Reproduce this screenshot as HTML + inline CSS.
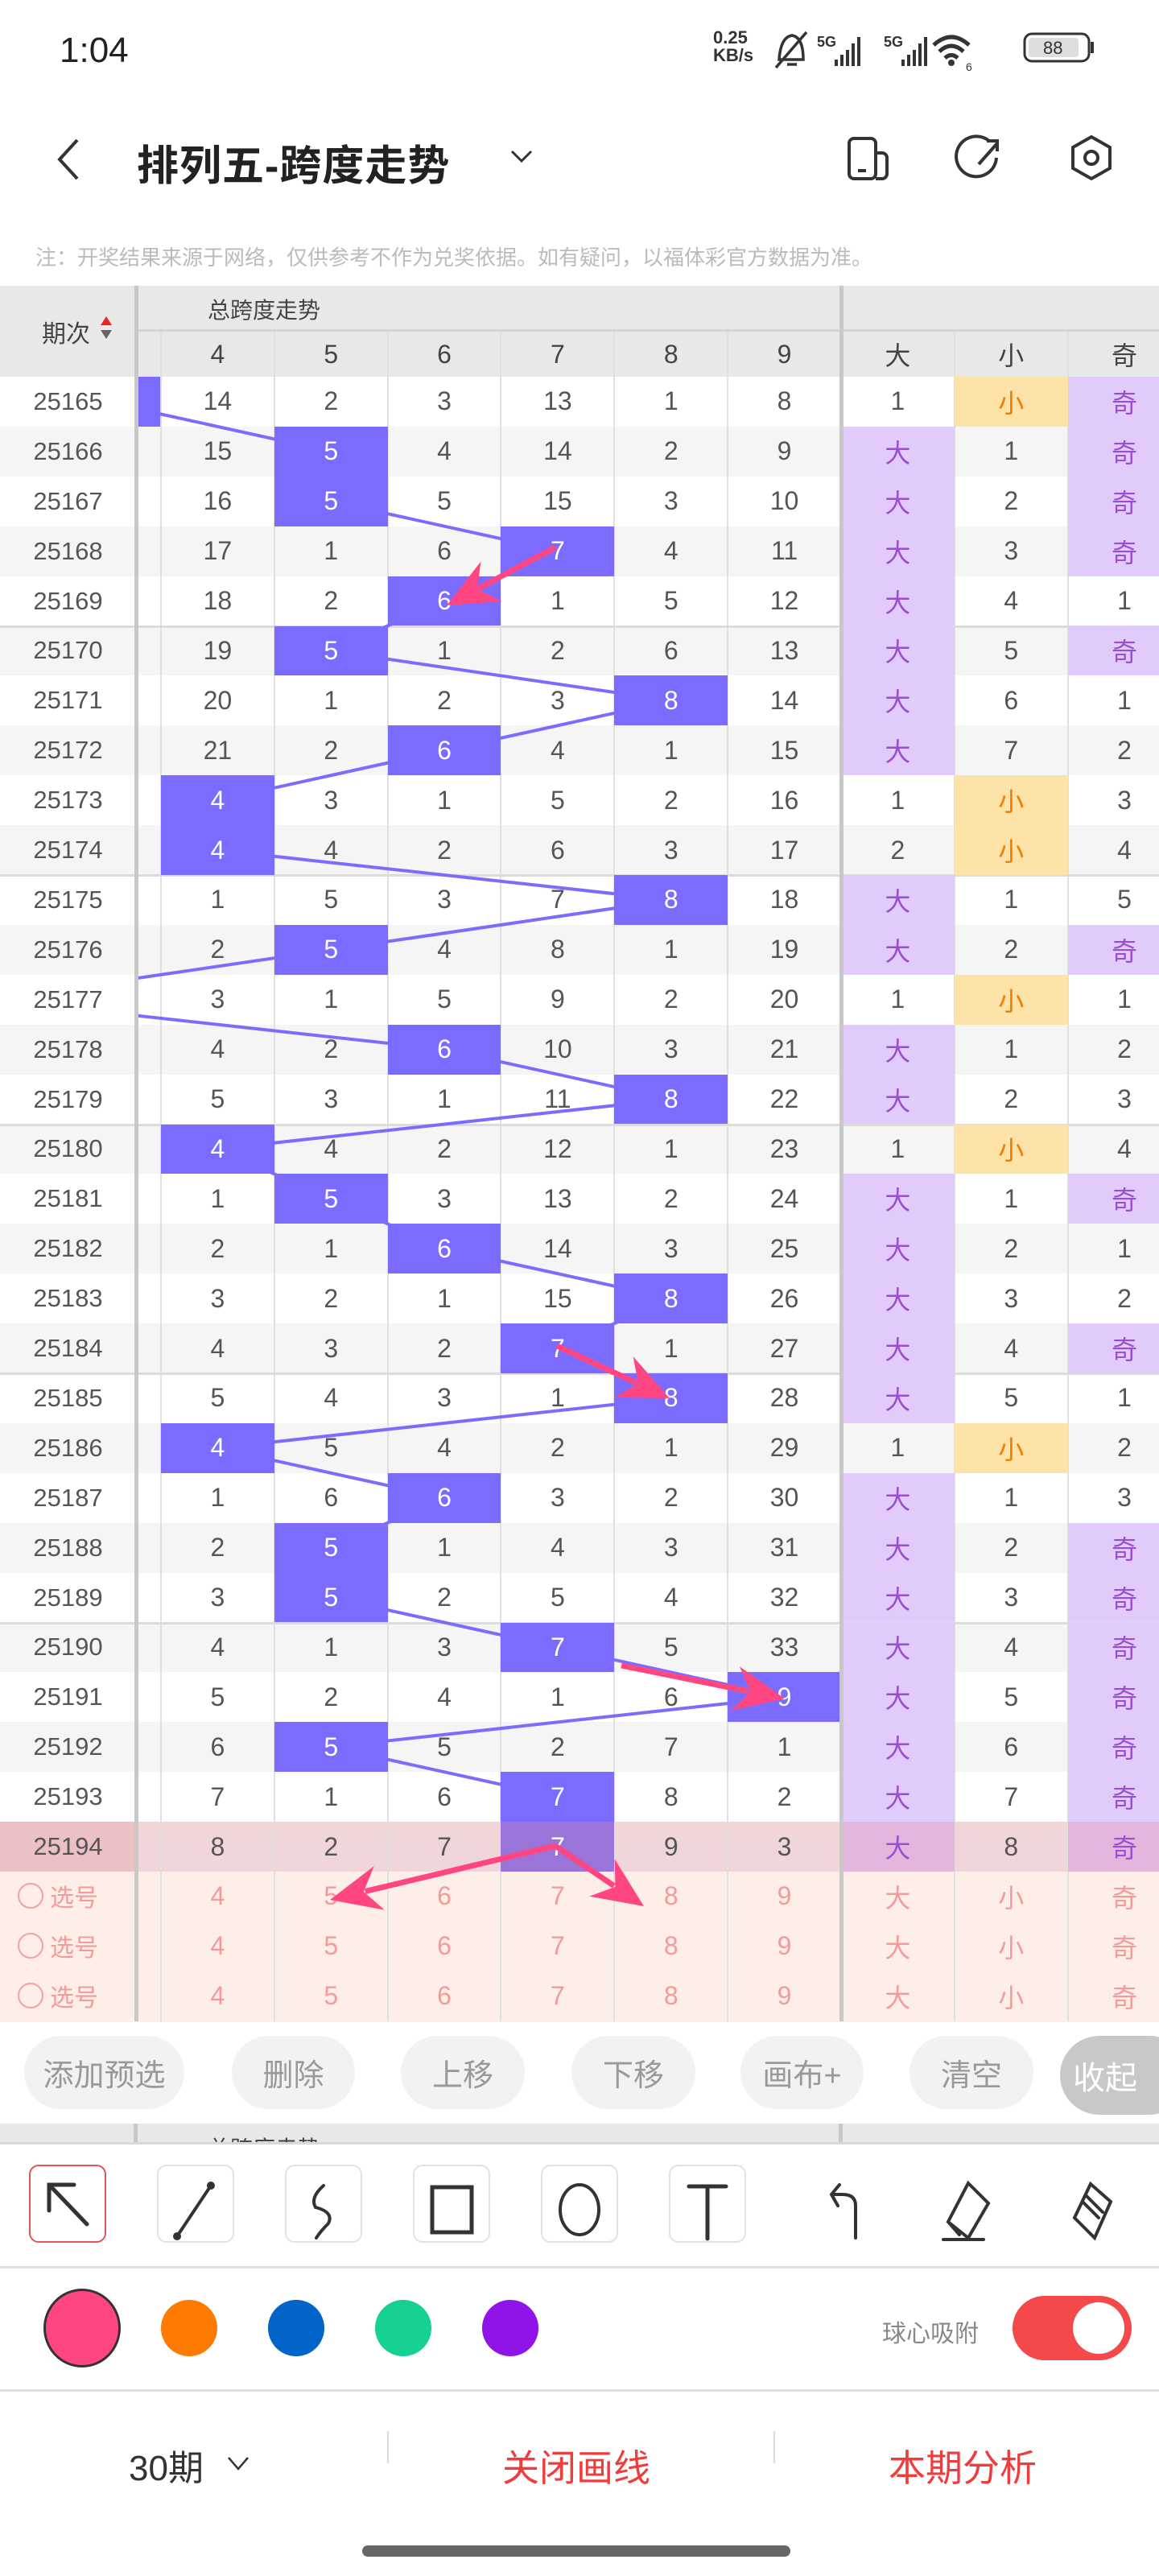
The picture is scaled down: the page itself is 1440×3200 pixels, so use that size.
<!DOCTYPE html>
<html><head><meta charset="utf-8">
<style>
*{margin:0;padding:0;box-sizing:border-box}
body{width:1440px;height:3200px;background:#fff;position:relative;overflow:hidden;font-family:"Liberation Sans","Noto Sans CJK SC",sans-serif;color:#555}
.a{position:absolute}
.c{position:absolute;display:flex;align-items:center;justify-content:center}
</style></head><body>
<!-- status bar -->
<div class="a" style="left:74px;top:38px;font-size:44px;color:#222">1:04</div>
<div class="a" style="left:886px;top:36px;font-size:22px;line-height:22px;font-weight:bold;color:#333">0.25<br>KB/s</div>
<svg class="a" style="left:960px;top:34px" width="400" height="60">
<g stroke="#333" stroke-width="3.5" fill="none">
<path d="M8 40 Q10 12 24 10 Q38 12 38 40 Z M18 46 h12 M4 50 L42 6"/>
</g>
<text x="55" y="24" font-size="18" font-weight="bold" fill="#333" font-family="Liberation Sans">5G</text>
<g fill="#333"><rect x="77" y="40" width="4" height="8"/><rect x="84" y="34" width="4" height="14"/><rect x="91" y="28" width="4" height="20"/><rect x="98" y="20" width="4" height="28"/><rect x="105" y="12" width="4" height="36"/></g>
<text x="138" y="24" font-size="18" font-weight="bold" fill="#333" font-family="Liberation Sans">5G</text>
<g fill="#333"><rect x="160" y="40" width="4" height="8"/><rect x="167" y="34" width="4" height="14"/><rect x="174" y="28" width="4" height="20"/><rect x="181" y="20" width="4" height="28"/><rect x="188" y="12" width="4" height="36"/></g>
<g stroke="#333" stroke-width="5" fill="none"><path d="M200 22 Q222 2 244 22"/><path d="M207 30 Q222 16 237 30"/><path d="M214 38 Q222 31 230 38"/></g><circle cx="222" cy="44" r="4" fill="#333"/>
<text x="240" y="54" font-size="14" fill="#333">6</text>
<rect x="313" y="8" width="80" height="34" rx="9" fill="none" stroke="#333" stroke-width="3"/><rect x="318" y="13" width="62" height="24" rx="4" fill="#ddd"/>
<text x="336" y="33" font-size="22" fill="#333" font-family="Liberation Sans">88</text><rect x="395" y="18" width="4" height="14" fill="#333"/>
</svg>
<!-- title bar -->
<svg class="a" style="left:60px;top:168px" width="50" height="60"><path d="M36 6 L14 30 L36 54" stroke="#333" stroke-width="4" fill="none"/></svg>
<div class="a" style="left:170px;top:164px;font-size:52px;font-weight:bold;color:#222;letter-spacing:1px">排列五-跨度走势</div>
<svg class="a" style="left:630px;top:180px" width="40" height="30"><path d="M6 8 L18 20 L30 8" stroke="#333" stroke-width="3" fill="none"/></svg>
<svg class="a" style="left:1040px;top:160px" width="360" height="80" fill="none" stroke="#333" stroke-width="4">
<rect x="15" y="12" width="33" height="50" rx="6"/><path d="M48 30 h8 a6 6 0 0 1 6 6 v20 a6 6 0 0 1 -6 6 h-8"/><path d="M26 52 h10"/>
<path d="M190 16 A25 25 0 1 0 198 36"/><path d="M176 44 L199 18 M186 15 h13 v13"/>
<path d="M316 10 L339 23 L339 49 L316 62 L293 49 L293 23 Z"/><circle cx="316" cy="36" r="8"/>
</svg>
<div class="a" style="left:44px;top:300px;font-size:26px;color:#bbb">注：开奖结果来源于网络，仅供参考不作为兑奖依据。如有疑问，以福体彩官方数据为准。</div>

<div id="tbl"></div>
<svg id="ov" class="a" style="left:0;top:0" width="1440" height="2520"></svg>

<!-- buttons -->
<div id="btns"></div>
<div class="a" style="left:0;top:2638px;width:1440px;height:26px;background:#e8e8e8;border-bottom:3px solid #d8d8d8;overflow:hidden">
<div class="a" style="left:166px;top:0;width:5px;height:26px;background:#c8c8c8"></div>
<div class="a" style="left:1042px;top:0;width:5px;height:26px;background:#c8c8c8"></div>
<div class="a" style="left:258px;top:10px;font-size:28px;color:#444">总跨度走势</div></div>
<!-- tools -->
<div id="tools"></div>
<svg class="a" style="left:0;top:2680px" width="1440" height="120" fill="none" stroke="#333" stroke-width="4" stroke-linecap="round">
<path d="M61 34 L108 83 M61 66 V34 H92" stroke-width="5"/>
<path d="M262 35 L220 98"/><circle cx="262" cy="35" r="3" fill="#333"/><circle cx="220" cy="98" r="3" fill="#333"/>
<path d="M402 35 Q385 50 392 62 Q415 68 408 82 Q398 92 393 100"/>
<rect x="537" y="37" width="49" height="56" stroke-width="5"/>
<ellipse cx="720" cy="65" rx="24" ry="31"/>
<path d="M856 36 h46 M879 36 v65" stroke-width="5"/>
<path d="M1063 100 v-40 Q1063 46 1047 46 h-14 M1033 46 l10 -12 M1033 46 l8 14"/>
<path d="M1203 32 L1228 57 L1203 100 L1178 80 Z M1178 80 L1192 96 M1172 102 h50"/>
<path d="M1355 33 L1380 55 L1360 100 L1335 75 Z M1345 55 l20 20 M1350 48 l20 20"/>
</svg>
<div class="a" style="left:0;top:2815px;width:1440px;height:3px;background:#e0e0e0"></div>
<div class="a" style="left:54px;top:2843px;width:96px;height:98px;border-radius:50%;background:#ff4680;border:3px solid #333"></div>
<div class="a" style="left:200px;top:2857px;width:70px;height:70px;border-radius:50%;background:#ff7b00"></div>
<div class="a" style="left:333px;top:2857px;width:70px;height:70px;border-radius:50%;background:#0064c8"></div>
<div class="a" style="left:466px;top:2857px;width:70px;height:70px;border-radius:50%;background:#16d18f"></div>
<div class="a" style="left:599px;top:2857px;width:70px;height:70px;border-radius:50%;background:#9013e8"></div>
<div class="a" style="left:1096px;top:2874px;font-size:30px;color:#888">球心吸附</div>
<div class="a" style="left:1258px;top:2852px;width:148px;height:80px;border-radius:40px;background:#f5484a"></div>
<div class="a" style="left:1333px;top:2860px;width:64px;height:64px;border-radius:50%;background:#fff"></div>
<div class="a" style="left:0;top:2968px;width:1440px;height:3px;background:#e0e0e0"></div>
<div class="a" style="left:160px;top:3030px;font-size:44px;color:#333">30期</div>
<svg class="a" style="left:278px;top:3045px" width="40" height="30"><path d="M6 8 L18 22 L30 8" stroke="#333" stroke-width="2.5" fill="none"/></svg>
<div class="a" style="left:481px;top:3020px;width:2px;height:40px;background:#ddd"></div>
<div class="a" style="left:961px;top:3020px;width:2px;height:40px;background:#ddd"></div>
<div class="a" style="left:624px;top:3030px;font-size:46px;color:#f03c3c">关闭画线</div>
<div class="a" style="left:1104px;top:3030px;font-size:46px;color:#f03c3c">本期分析</div>
<div class="a" style="left:450px;top:3162px;width:532px;height:14px;border-radius:7px;background:#666"></div>

<script>
const rows=[
["25165",[14,2,3,13,1,8],3,["1",0],["小",1],["奇",1]],
["25166",[15,5,4,14,2,9],5,["大",1],["1",0],["奇",1]],
["25167",[16,5,5,15,3,10],5,["大",1],["2",0],["奇",1]],
["25168",[17,1,6,7,4,11],7,["大",1],["3",0],["奇",1]],
["25169",[18,2,6,1,5,12],6,["大",1],["4",0],["1",0]],
["25170",[19,5,1,2,6,13],5,["大",1],["5",0],["奇",1]],
["25171",[20,1,2,3,8,14],8,["大",1],["6",0],["1",0]],
["25172",[21,2,6,4,1,15],6,["大",1],["7",0],["2",0]],
["25173",[4,3,1,5,2,16],4,["1",0],["小",1],["3",0]],
["25174",[4,4,2,6,3,17],4,["2",0],["小",1],["4",0]],
["25175",[1,5,3,7,8,18],8,["大",1],["1",0],["5",0]],
["25176",[2,5,4,8,1,19],5,["大",1],["2",0],["奇",1]],
["25177",[3,1,5,9,2,20],2,["1",0],["小",1],["1",0]],
["25178",[4,2,6,10,3,21],6,["大",1],["1",0],["2",0]],
["25179",[5,3,1,11,8,22],8,["大",1],["2",0],["3",0]],
["25180",[4,4,2,12,1,23],4,["1",0],["小",1],["4",0]],
["25181",[1,5,3,13,2,24],5,["大",1],["1",0],["奇",1]],
["25182",[2,1,6,14,3,25],6,["大",1],["2",0],["1",0]],
["25183",[3,2,1,15,8,26],8,["大",1],["3",0],["2",0]],
["25184",[4,3,2,7,1,27],7,["大",1],["4",0],["奇",1]],
["25185",[5,4,3,1,8,28],8,["大",1],["5",0],["1",0]],
["25186",[4,5,4,2,1,29],4,["1",0],["小",1],["2",0]],
["25187",[1,6,6,3,2,30],6,["大",1],["1",0],["3",0]],
["25188",[2,5,1,4,3,31],5,["大",1],["2",0],["奇",1]],
["25189",[3,5,2,5,4,32],5,["大",1],["3",0],["奇",1]],
["25190",[4,1,3,7,5,33],7,["大",1],["4",0],["奇",1]],
["25191",[5,2,4,1,6,9],9,["大",1],["5",0],["奇",1]],
["25192",[6,5,5,2,7,1],5,["大",1],["6",0],["奇",1]],
["25193",[7,1,6,7,8,2],7,["大",1],["7",0],["奇",1]],
["25194",[8,2,7,7,9,3],7,["大",1],["8",0],["奇",1]]];
const X0=200,CW=140.83,RH=61.9,Y0=468;
const cx=v=>X0+(v-4)*CW;
let h='';
h+=`<div class="a" style="left:0;top:355px;width:1440px;height:113px;background:#e8e8e8"></div>`;
h+=`<div class="a" style="left:171px;top:409px;width:1269px;height:3px;background:#d4d4d4"></div>`;
h+=`<div class="a" style="left:52px;top:390px;font-size:30px;color:#444">期次</div>`;
h+=`<svg class="a" style="left:122px;top:390px" width="20" height="40"><path d="M3 14 L10 3 L17 14Z" fill="#f02020"/><path d="M3 20 L10 31 L17 20Z" fill="#666"/></svg>`;
h+=`<div class="a" style="left:258px;top:364px;font-size:28px;color:#444">总跨度走势</div>`;
const hd=["4","5","6","7","8","9","大","小","奇"];
hd.forEach((t,i)=>{h+=`<div class="c" style="left:${X0+i*CW}px;top:412px;width:${CW}px;height:56px;font-size:32px;color:#444">${t}</div>`});
const allR=rows.length+3;
for(let i=0;i<allR;i++){
 const y=Y0+i*RH;
 let bg=i%2?'#f5f5f5':'#fff';
 if(i==29)bg='#f0d6d9'; if(i>=30)bg='#fdeee8';
 h+=`<div class="a" style="left:0;top:${y}px;width:1440px;height:${RH+1}px;background:${bg}"></div>`;
 if(i==29)h+=`<div class="a" style="left:0;top:${y}px;width:169px;height:${RH+1}px;background:#ebc1c5"></div>`;
}
for(let k=1;k<=8;k++){if(k==6)continue;h+=`<div class="a" style="left:${X0+k*CW-1}px;top:412px;width:2px;height:${allR*RH+56}px;background:#e0e0e0"></div>`}
h+=`<div class="a" style="left:199px;top:412px;width:2px;height:${allR*RH+56}px;background:#e0e0e0"></div>`;
for(let i=5;i<30;i+=5)h+=`<div class="a" style="left:0;top:${Y0+i*RH-1}px;width:1440px;height:3px;background:#dcdcdc"></div>`;
rows.forEach((r,i)=>{
 const y=Y0+i*RH;
 h+=`<div class="c" style="left:0;top:${y}px;width:169px;height:${RH}px;font-size:31px;color:#555">${r[0]}</div>`;
 const hl=r[2];
 r[1].forEach((v,k)=>{const col=k+4;const on=col==hl;
  h+=`<div class="c" style="left:${cx(col)}px;top:${y}px;width:${CW}px;height:${RH}px;font-size:32px;color:${on?'#fff':'#555'};${on?'background:'+(i==29?'#9b74da':'#7b6cff')+';z-index:3':''}">${v}</div>`});
 if(hl==3)h+=`<div class="a" style="left:171px;top:${y}px;width:28px;height:${RH}px;background:#7b6cff;z-index:3"></div>`;
 [r[3],r[4],r[5]].forEach((c,k)=>{let st='color:#555';
  if(c[1]){st=(k==1)?'background:#fde3a8;color:#f07d00':'background:'+(i==29?'#e3b5dd':'#e0cbfb')+';color:#9a4fd0'}
  h+=`<div class="c" style="left:${X0+(6+k)*CW}px;top:${y}px;width:${CW}px;height:${RH}px;font-size:32px;${st}">${c[0]}</div>`});
});
for(let j=0;j<3;j++){const y=Y0+(30+j)*RH;
 h+=`<div class="a" style="left:22px;top:${y+14}px;width:32px;height:32px;border-radius:50%;border:2px solid #f5a0a0"></div>`;
 h+=`<div class="a" style="left:62px;top:${y+8}px;font-size:30px;color:#f59a9a">选号</div>`;
 hd.forEach((t,i)=>{h+=`<div class="c" style="left:${X0+i*CW}px;top:${y}px;width:${CW}px;height:${RH}px;font-size:32px;color:#f59a9a">${t}</div>`});
}
h+=`<div class="a" style="left:167px;top:355px;width:5px;height:${113+allR*RH}px;background:#c8c8c8;z-index:4"></div>`;
h+=`<div class="a" style="left:${X0+6*CW-2}px;top:355px;width:5px;height:${113+allR*RH}px;background:#c8c8c8;z-index:4"></div>`;
document.getElementById('tbl').innerHTML=h;
let s='<defs><clipPath id="cp"><rect x="172" y="0" width="1300" height="2520"/></clipPath></defs><g clip-path="url(#cp)" stroke="#7b6cff" stroke-width="4">';
for(let i=0;i<29;i++){const a=rows[i][2],b=rows[i+1][2];
 s+=`<line x1="${cx(a)+CW/2}" y1="${Y0+i*RH+RH/2}" x2="${cx(b)+CW/2}" y2="${Y0+(i+1)*RH+RH/2}"/>`}
s+='</g>';
const ov=document.getElementById('ov');ov.style.zIndex=2;
let ar='';
function arrow(x1,y1,x2,y2){const dx=x2-x1,dy=y2-y1,L=Math.hypot(dx,dy),ux=dx/L,uy=dy/L;const bx=x2-ux*55,by=y2-uy*55;
 ar+=`<line x1="${x1}" y1="${y1}" x2="${bx+ux*10}" y2="${by+uy*10}" stroke="#ff4680" stroke-width="7"/>`;
 ar+=`<path d="M${x2} ${y2} L${bx-uy*28-ux*8} ${by+ux*28-uy*8} L${bx+ux*12} ${by+uy*12} L${bx+uy*28-ux*8} ${by-ux*28-uy*8} Z" fill="#ff4680"/>`}
arrow(690,680,555,752);
arrow(692,1672,832,1737);
arrow(772,2069,975,2110);
arrow(690,2293,410,2360);
arrow(690,2293,800,2368);
ov.innerHTML=s;
const ov2=document.createElementNS('http://www.w3.org/2000/svg','svg');
ov2.setAttribute('width','1440');ov2.setAttribute('height','2520');ov2.setAttribute('class','a');ov2.style.left='0';ov2.style.top='0';ov2.style.zIndex=5;
ov2.innerHTML=ar;document.body.appendChild(ov2);
const B=[["添加预选",30,229],["删除",288,441],["上移",498,652],["下移",710,864],["画布+",920,1073],["清空",1130,1284]];
let bh='';B.forEach(b=>{bh+=`<div class="c" style="left:${b[1]}px;top:2529px;width:${b[2]-b[1]}px;height:91px;border-radius:46px;background:#f1f2f4;font-size:38px;color:#999">${b[0]}</div>`});
bh+=`<div class="c" style="left:1317px;top:2529px;width:160px;height:98px;border-radius:49px;background:#c8c8c8;font-size:40px;color:#fff;justify-content:flex-start;padding-left:16px">收起</div>`;
document.getElementById('btns').innerHTML=bh;
let th='';[36,195,354,513,672,831].forEach((x,i)=>{th+=`<div class="a" style="left:${x}px;top:2689px;width:96px;height:97px;border-radius:12px;border:2px solid ${i?'#e2e2e2':'#e05555'}"></div>`});
document.getElementById('tools').innerHTML=th;
</script>
</body></html>
